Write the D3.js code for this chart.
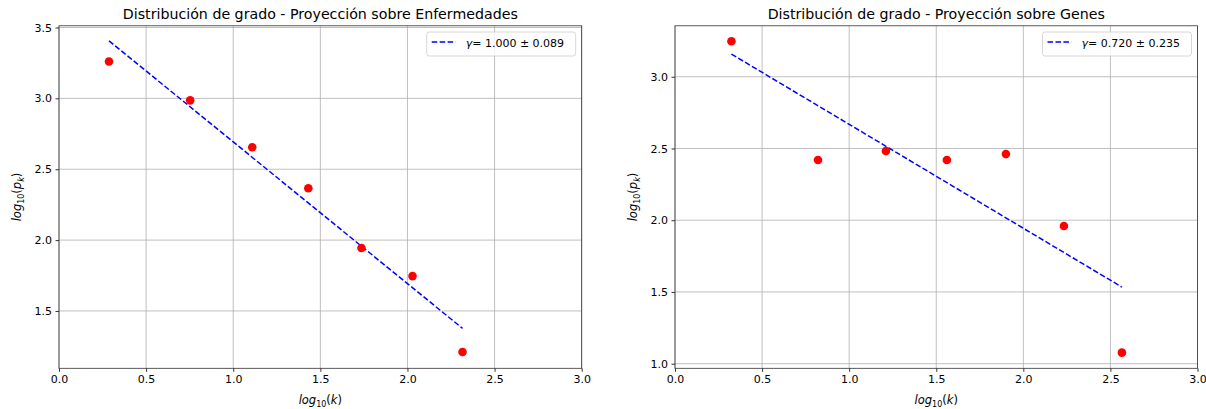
<!DOCTYPE html>
<html>
<head>
<meta charset="utf-8">
<script src="https://cdn.jsdelivr.net/npm/d3@7"></script>
<style>
    body { margin: 0; background: #fff; }
    text { font-family: "DejaVu Sans", sans-serif; fill: #000; }
</style>
</head>
<body>
<div id="chart"></div>
<script>
// Proyección sobre Enfermedades
const enfX = [0.287, 0.753, 1.109, 1.431, 1.736, 2.029, 2.316];
const enfY = [3.26, 2.986, 2.655, 2.366, 1.944, 1.746, 1.211];
const enfFitX = [0.287, 2.316];
const enfFitY = [3.406, 1.377];

// Proyección sobre Genes
const genX = [0.324, 0.821, 1.211, 1.561, 1.90, 2.233, 2.566];
const genY = [3.247, 2.42, 2.482, 2.42, 2.461, 1.96, 1.077];
const genFitX = [0.324, 2.566];
const genFitY = [3.158, 1.534];

const xTicks = [0.0, 0.5, 1.0, 1.5, 2.0, 2.5, 3.0];
const enfYTicks = [1.5, 2.0, 2.5, 3.0, 3.5];
const genYTicks = [1.0, 1.5, 2.0, 2.5, 3.0];

const svg = d3.select("#chart")
    .append("svg")
    .attr("width", 1206)
    .attr("height", 409);

function drawPanel(cfg) {
    const x = d3.scaleLinear().domain([0, 3]).range([cfg.left, cfg.right]);
    const y = d3.scaleLinear().domain(cfg.yDomain).range([368.3, 25.8]);

    const g = svg.append("g");

    // grid
    g.append("g")
        .selectAll("line")
        .data(xTicks)
        .join("line")
        .attr("x1", d => x(d)).attr("x2", d => x(d))
        .attr("y1", y.range()[0]).attr("y2", y.range()[1])
        .attr("stroke", "#b0b0b0")
        .attr("stroke-width", 0.8);
    g.append("g")
        .selectAll("line")
        .data(cfg.yTicks)
        .join("line")
        .attr("x1", cfg.left).attr("x2", cfg.right)
        .attr("y1", d => y(d)).attr("y2", d => y(d))
        .attr("stroke", "#b0b0b0")
        .attr("stroke-width", 0.8);

    // fit line
    const line = d3.line()
        .x(d => x(d[0]))
        .y(d => y(d[1]));
    g.append("path")
        .datum(d3.zip(cfg.fitX, cfg.fitY))
        .attr("d", line)
        .attr("fill", "none")
        .attr("stroke", "#0000ff")
        .attr("stroke-width", 1.5)
        .attr("stroke-dasharray", "5.55,2.4");

    // points
    g.append("g")
        .selectAll("circle")
        .data(d3.zip(cfg.xs, cfg.ys))
        .join("circle")
        .attr("cx", d => x(d[0]))
        .attr("cy", d => y(d[1]))
        .attr("r", 4.3)
        .attr("fill", "#ff0000");

    // axes
    const xAxis = d3.axisBottom(x)
        .tickValues(xTicks)
        .tickFormat(d3.format(".1f"))
        .tickSize(3.5)
        .tickPadding(3.5);
    const yAxis = d3.axisLeft(y)
        .tickValues(cfg.yTicks)
        .tickFormat(d3.format(".1f"))
        .tickSize(3.5)
        .tickPadding(3.5);

    const gx = g.append("g")
        .attr("transform", `translate(0,${y.range()[0]})`)
        .call(xAxis);
    const gy = g.append("g")
        .attr("transform", `translate(${cfg.left},0)`)
        .call(yAxis);
    [gx, gy].forEach(a => {
        a.select(".domain").remove();
        a.selectAll("line").attr("stroke", "#000").attr("stroke-width", 0.8);
        a.selectAll("text")
            .attr("font-family", "DejaVu Sans")
            .attr("font-size", 11)
            .attr("fill", "#000");
    });

    // spines
    g.append("rect")
        .attr("x", cfg.left)
        .attr("y", y.range()[1])
        .attr("width", cfg.right - cfg.left)
        .attr("height", y.range()[0] - y.range()[1])
        .attr("fill", "none")
        .attr("stroke", "#333")
        .attr("stroke-width", 0.8);

    // title
    g.append("text")
        .attr("x", (cfg.left + cfg.right) / 2)
        .attr("y", 19)
        .attr("text-anchor", "middle")
        .attr("font-size", 14.2)
        .text(cfg.title);

    // x label
    const xl = g.append("text")
        .attr("x", (cfg.left + cfg.right) / 2)
        .attr("y", 404)
        .attr("text-anchor", "middle")
        .attr("font-size", 11.5);
    xl.append("tspan").attr("font-style", "italic").text("log");
    xl.append("tspan").attr("font-size", 8).attr("dy", 2.5).text("10");
    xl.append("tspan").attr("dy", -2.5).text("(");
    xl.append("tspan").attr("font-style", "italic").text("k");
    xl.append("tspan").text(")");

    // y label
    const yl = g.append("text")
        .attr("transform", `translate(${cfg.left - 38},197) rotate(-90)`)
        .attr("text-anchor", "middle")
        .attr("font-size", 11.5);
    yl.append("tspan").attr("font-style", "italic").text("log");
    yl.append("tspan").attr("font-size", 8).attr("dy", 2.5).text("10");
    yl.append("tspan").attr("dy", -2.5).text("(");
    yl.append("tspan").attr("font-style", "italic").text("p");
    yl.append("tspan").attr("font-style", "italic").attr("font-size", 8).attr("dy", 2.5).text("k");
    yl.append("tspan").attr("dy", -2.5).text(")");

    // legend
    const lx = cfg.right - 155, ly = 32;
    const lg = g.append("g");
    lg.append("rect")
        .attr("x", lx).attr("y", ly)
        .attr("width", 149).attr("height", 24)
        .attr("rx", 2.5)
        .attr("fill", "#fff").attr("fill-opacity", 0.8)
        .attr("stroke", "#cccccc").attr("stroke-width", 0.8);
    lg.append("line")
        .attr("x1", lx + 5).attr("x2", lx + 29)
        .attr("y1", ly + 10).attr("y2", ly + 10)
        .attr("stroke", "#0000ff")
        .attr("stroke-width", 1.5)
        .attr("stroke-dasharray", "5.55,2.4");
    const lt = lg.append("text")
        .attr("x", lx + 39)
        .attr("y", ly + 14.5)
        .attr("font-size", 11);
    lt.append("tspan").attr("font-style", "italic").text("γ");
    lt.append("tspan").text("= " + cfg.gamma + " ± " + cfg.err);
}

drawPanel({
    left: 59, right: 581.7, yDomain: [1.0955, 3.512], yTicks: enfYTicks,
    xs: enfX, ys: enfY, fitX: enfFitX, fitY: enfFitY,
    title: "Distribución de grado - Proyección sobre Enfermedades",
    gamma: "1.000", err: "0.089"
});
drawPanel({
    left: 675, right: 1197.5, yDomain: [0.968, 3.355], yTicks: genYTicks,
    xs: genX, ys: genY, fitX: genFitX, fitY: genFitY,
    title: "Distribución de grado - Proyección sobre Genes",
    gamma: "0.720", err: "0.235"
});
</script>
</body>
</html>
